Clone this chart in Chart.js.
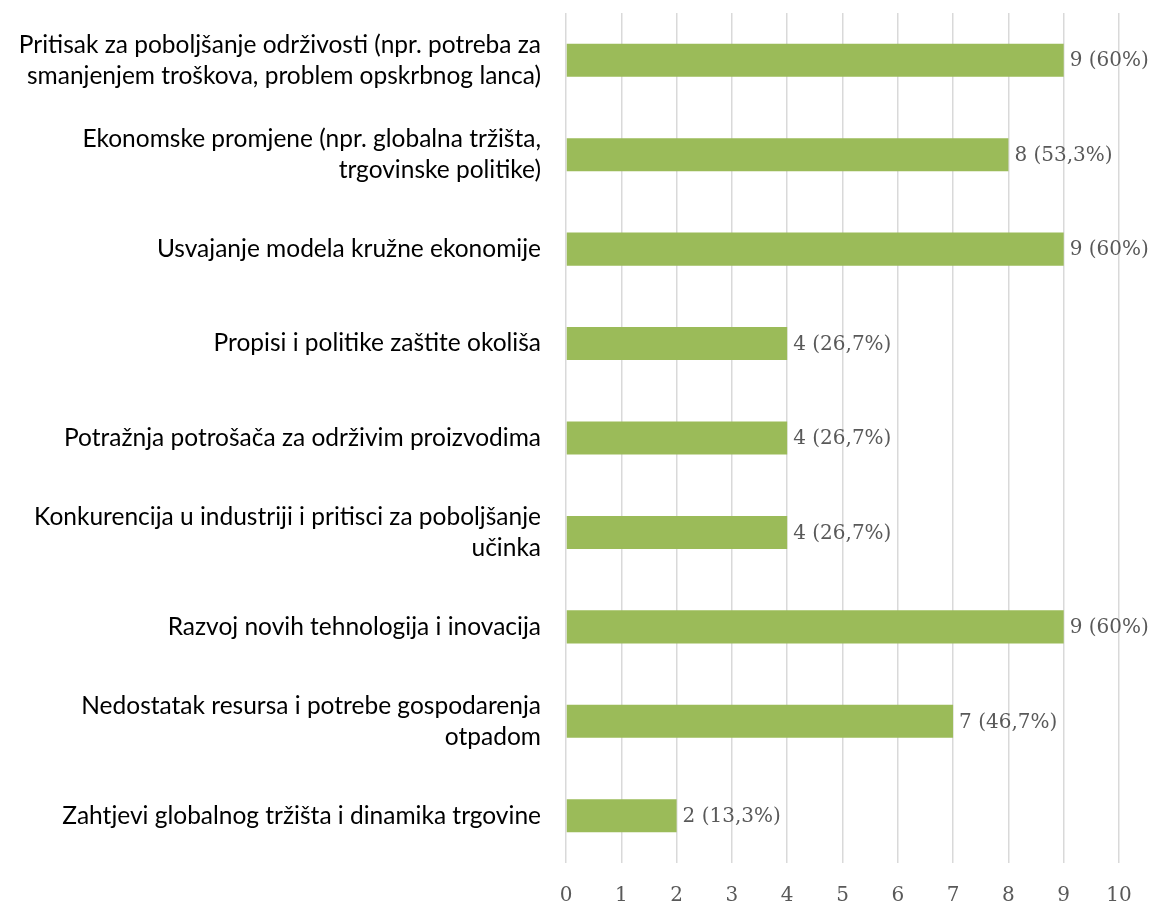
<!DOCTYPE html>
<html>
<head>
<meta charset="utf-8">
<script src="https://cdn.jsdelivr.net/npm/chart.js@4"></script>
<style>
  html, body { margin: 0; padding: 0; background: #fff; }
</style>
</head>
<body>
<canvas id="myChart" width="1156" height="903"></canvas>
<script>
const categories = [
    ['Pritisak za poboljšanje održivosti (npr. potreba za', 'smanjenjem troškova, problem opskrbnog lanca)'],
    ['Ekonomske promjene (npr. globalna tržišta,', 'trgovinske politike)'],
    'Usvajanje modela kružne ekonomije',
    'Propisi i politike zaštite okoliša',
    'Potražnja potrošača za održivim proizvodima',
    ['Konkurencija u industriji i pritisci za poboljšanje', 'učinka'],
    'Razvoj novih tehnologija i inovacija',
    ['Nedostatak resursa i potrebe gospodarenja', 'otpadom'],
    'Zahtjevi globalnog tržišta i dinamika trgovine'
];
const counts = [9, 8, 9, 4, 4, 4, 9, 7, 2];
const percents = ['60%', '53,3%', '60%', '26,7%', '26,7%', '26,7%', '60%', '46,7%', '13,3%'];
const xTicks = [0, 1, 2, 3, 4, 5, 6, 7, 8, 9, 10];

const serif = 'DejaVu Serif';
const sans = 'Lato';

// "n (p%)" next to each bar end
const valueLabels = {
    id: 'valueLabels',
    afterDatasetsDraw(chart) {
        const c = chart.ctx;
        const meta = chart.getDatasetMeta(0);
        c.save();
        c.font = '20px "' + serif + '"';
        c.fillStyle = '#595959';
        c.textBaseline = 'middle';
        c.textAlign = 'left';
        meta.data.forEach((bar, i) => {
            c.fillText(counts[i] + ' (' + percents[i] + ')', bar.x + 6, bar.y + 1);
        });
        c.restore();
    }
};

const ctx = document.getElementById('myChart').getContext('2d');

const myChart = new Chart(ctx, {
    type: 'bar',
    data: {
        labels: categories,
        datasets: [{
            data: counts,
            backgroundColor: '#9BBB59',
            borderWidth: 0,
            categoryPercentage: 1,
            barPercentage: 0.35
        }]
    },
    options: {
        indexAxis: 'y',
        responsive: false,
        maintainAspectRatio: false,
        animation: false,
        layout: {
            padding: {top: 13, right: 37, left: 0, bottom: 0}
        },
        scales: {
            x: {
                min: 0,
                max: 10,
                afterBuildTicks: (s) => { s.ticks = xTicks.map(v => ({value: v})); },
                afterFit: (s) => { s.height = 40; s.paddingLeft = 0; s.paddingRight = 0; },
                border: {display: false},
                grid: {
                    color: '#d9d9d9',
                    lineWidth: 1.5,
                    drawTicks: false
                },
                ticks: {
                    padding: 21,
                    color: '#595959',
                    font: {family: serif, size: 20}
                }
            },
            y: {
                afterFit: (s) => { s.width = 566; s.paddingTop = 0; s.paddingBottom = 0; },
                border: {display: false},
                grid: {display: false, drawTicks: false},
                ticks: {
                    padding: 25,
                    color: '#000',
                    font: {family: sans, size: 24.5, lineHeight: 1.27}
                }
            }
        },
        plugins: {
            legend: {display: false},
            tooltip: {enabled: false}
        }
    },
    plugins: [valueLabels]
});
</script>
</body>
</html>
